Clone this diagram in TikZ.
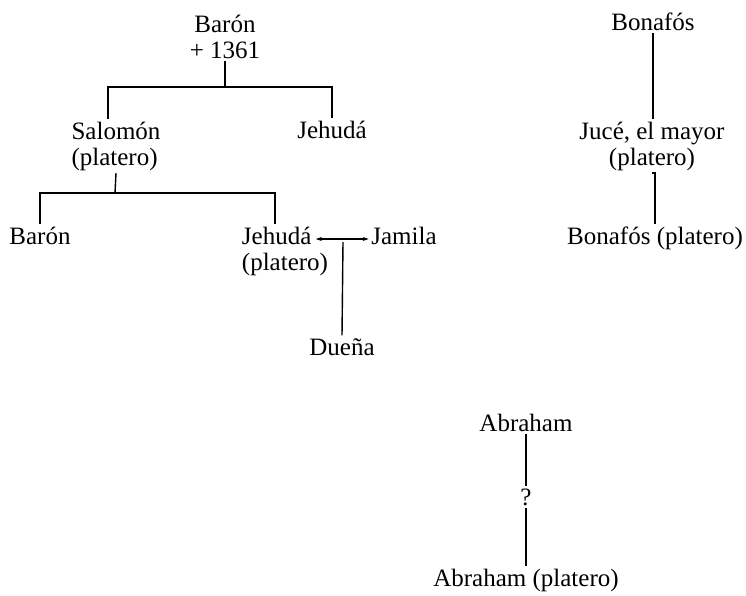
\documentclass[tikz,border=0pt]{standalone}
\usepackage{fontspec}
\setmainfont{Liberation Serif}
\usetikzlibrary{arrows, positioning, arrows.meta}

\begin{document}
\begin{tikzpicture}[x=1pt, y=-1pt, line width=1.4pt,
    person/.style={font=\fontsize{25}{26}\selectfont, inner sep=2pt, anchor=base},
    >={Stealth[length=6pt, width=4pt]}]

    \useasboundingbox (0,0) rectangle (746,595);

	%Nodes
    \node[person, align=center] (baron) at (225,58) {Barón\\+ 1361};
    \node[person, align=left] (salomon) at (116,165) {Salomón\\(platero)};
    \node[person] (jehuda) at (332,138) {Jehudá};
    \node[person] (baron2) at (40,244) {Barón};
    \node[person, align=left] (jehuda2) at (285,270) {Jehudá\\(platero)};
    \node[person] (jamila) at (404,244) {Jamila};
    \node[person] (duena) at (342,355) {Dueña};
    \node[person] (bonafos) at (653,30) {Bonafós};
    \node[person, align=center] (juce) at (652,165) {Jucé, el mayor\\(platero)};
    \node[person] (bonafos2) at (655,244) {Bonafós (platero)};
    \node[person] (abraham) at (526,431) {Abraham};
    \node[person] (unknown) at (526,505) {?};
    \node[person] (abraham2) at (526,586) {Abraham (platero)};

    \coordinate (bar1) at (225,87);
    \coordinate (bar2) at (115,193);
    \coordinate (wed) at (343,239);

    % Edges
    \draw (baron.south) -- (bar1);
    \draw ([xshift=-8pt]salomon.north) |- (bar1) -| (jehuda.north);
    \draw (salomon.south) -- (bar2);
    \draw (baron2.north) |- (bar2) -| ([xshift=-10pt]jehuda2.north);
    \draw[->] (wed) -- ([xshift=-15pt]jehuda2.east |- wed);
    \draw[->] (wed) -- (jamila.west |- wed);
    \draw ([yshift=-3pt]wed) -- (duena.north);
    \draw (bonafos.south) -- (bonafos.south |- juce.north);
    \draw (juce.south) -- (juce.south -| bonafos2.north) -- (bonafos2.north);
    \draw (abraham) -- (unknown);
    \draw (unknown) -- (abraham2);

\end{tikzpicture}
\end{document}
